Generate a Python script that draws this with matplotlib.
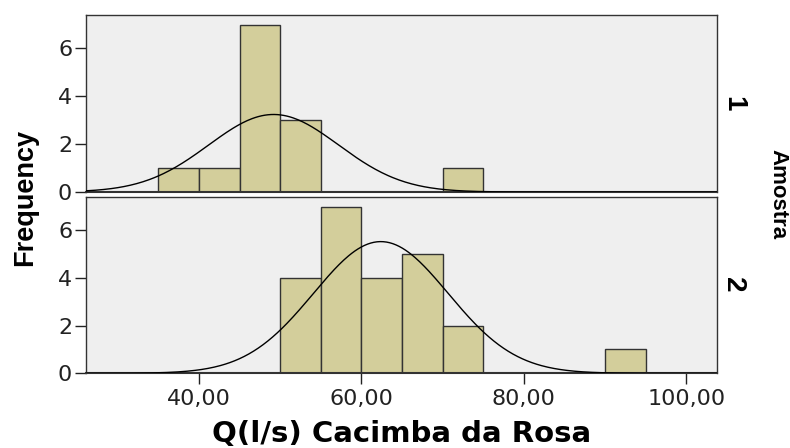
import numpy as np
import matplotlib.pyplot as plt

# histogram data (bin width 5)
bin_width = 5
edges_1 = [35, 40, 45, 50, 70]
counts_1 = [1, 1, 7, 3, 1]
edges_2 = [50, 55, 60, 65, 70, 90]
counts_2 = [4, 7, 4, 5, 2, 1]

# fitted normal curves (mean, sd, n)
mean_1, sd_1, n_1 = 49.2, 8.0, 13
mean_2, sd_2, n_2 = 62.4, 8.3, 23

panel_labels = ['1', '2']
x_ticks = [40, 60, 80, 100]
x_ticklabels = ['40,00', '60,00', '80,00', '100,00']
y_ticks = [0, 2, 4, 6]

bar_color = '#d3ce9b'
bg_color = '#efefef'
edge_color = '#333333'
narrow = ['Liberation Sans Narrow', 'DejaVu Sans Condensed', 'Liberation Sans']

fig = plt.figure(figsize=(7.9, 4.48), dpi=100)
ax1 = fig.add_axes([0.1089, 0.5714, 0.7987, 0.3951])
ax2 = fig.add_axes([0.1089, 0.1667, 0.7987, 0.3936])

xs = np.linspace(26.1, 103.8, 400)
panels = [(ax1, edges_1, counts_1, mean_1, sd_1, n_1),
          (ax2, edges_2, counts_2, mean_2, sd_2, n_2)]

for i, (ax, edges, counts, mu, sd, n) in enumerate(panels):
    ax.set_facecolor(bg_color)
    ax.bar(edges, counts, width=bin_width, align='edge', color=bar_color,
           edgecolor=edge_color, linewidth=1.0, zorder=2)
    curve = n * bin_width / (sd * np.sqrt(2 * np.pi)) * np.exp(-0.5 * ((xs - mu) / sd) ** 2)
    ax.plot(xs, curve, color='black', linewidth=1.0, zorder=3)
    ax.set_xlim(26.1, 103.8)
    ax.set_ylim(0, 7.4)
    ax.set_yticks(y_ticks)
    ax.tick_params(axis='y', length=8, width=1, labelsize=16, pad=2, colors='#222222')
    ax.tick_params(axis='x', length=8, width=1, labelsize=16, pad=3, colors='#222222')
    for s in ax.spines.values():
        s.set_color(edge_color)
        s.set_linewidth(1.0)
    ax.spines['bottom'].set_linewidth(1.5)
    ax.text(1.005, 0.5, panel_labels[i], transform=ax.transAxes, rotation=-90,
            ha='left', va='center', fontsize=20, fontweight='bold', family=narrow)

ax1.set_xticks([])
ax2.set_xticks(x_ticks)
ax2.set_xticklabels(x_ticklabels)

fig.text(0.032, 0.56, 'Frequency', rotation=90, ha='center', va='center',
         fontsize=19.5, fontweight='bold', family=narrow)
fig.text(0.985, 0.566, 'Amostra', rotation=-90, ha='center', va='center',
         fontsize=16, fontweight='bold', family=narrow)
fig.text(0.508, 0.032, 'Q(l/s) Cacimba da Rosa', ha='center', va='center',
         fontsize=21, fontweight='bold')

fig.savefig('out.png', dpi=100)
